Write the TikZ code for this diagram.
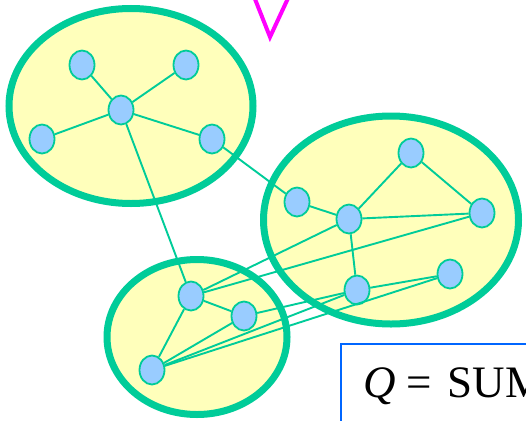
\documentclass[tikz,border=0pt]{standalone}
\usepackage{amsmath}
\usepackage{fontspec}
\newfontfamily\boxfont{Liberation Serif}
\usetikzlibrary{shapes.geometric}
\definecolor{cGreen}{RGB}{0,204,153}
\definecolor{cYel}{RGB}{255,255,187}
\definecolor{cBlue}{RGB}{153,204,255}
\definecolor{cBox}{RGB}{0,102,255}
\definecolor{cMag}{RGB}{255,0,255}
\tikzset{
  cluster/.style={ellipse,draw=cGreen,fill=cYel,line width=7pt,inner sep=0pt},
  vert/.style={ellipse,draw=cGreen,fill=cBlue,line width=1.8pt,
    minimum width=25pt,minimum height=29pt,inner sep=0pt},
  link/.style={draw=cGreen,line width=1.9pt},
  sumbox/.style={draw=cBox,line width=2pt,anchor=north west,
    font=\boxfont\fontsize{45}{48}\selectfont,inner xsep=22pt,inner ysep=23pt,
    text height=30pt,text depth=60pt,text width=260pt,align=left},
}

\begin{document}
\begin{tikzpicture}[x=1pt,y=-1pt]
  \useasboundingbox (0,0) rectangle (526,420);
  % clusters
  \node[cluster,minimum width=244pt,minimum height=195pt] (kA) at (131,106) {};
  \node[cluster,minimum width=180pt,minimum height=155pt] (kC) at (197,337) {};
  \node[cluster,minimum width=255pt,minimum height=208pt] (kB) at (391,220) {};
  % vertices
  \node[vert] (a1) at (82,65) {};
  \node[vert] (a2) at (186,65) {};
  \node[vert] (a3) at (121,110) {};
  \node[vert] (a4) at (42,139) {};
  \node[vert] (a5) at (212,139) {};
  \node[vert] (b1) at (297,202) {};
  \node[vert] (b2) at (349,219) {};
  \node[vert] (b3) at (411,153) {};
  \node[vert] (b4) at (482,213) {};
  \node[vert] (b5) at (357,290) {};
  \node[vert] (b6) at (450,274) {};
  \node[vert] (c1) at (191,296) {};
  \node[vert] (c2) at (244,316) {};
  \node[vert] (c3) at (152,370) {};
  % edges
  \foreach \u/\v in {a3/a1,a3/a2,a3/a4,a3/a5,a5/b1,a3/c1,b1/b2,b2/b3,b3/b4,
      b2/b4,b2/b5,b5/b6,c1/b2,c1/b4,c1/c2,c1/c3,c2/b5,c3/c2,c3/b5,c3/b6}
    \draw[link] (\u) -- (\v);
  \begin{scope}
    \clip (0,0) rectangle (526,420);
    \draw[cMag,line width=4pt,miter limit=10] (253,-6) -- (270,37) -- (290,-6);
    \node[sumbox] (qbox) at (340,343) {\textit{Q}\hspace{11pt}=\hspace{16pt}SUM};
  \end{scope}
\end{tikzpicture}
\end{document}
